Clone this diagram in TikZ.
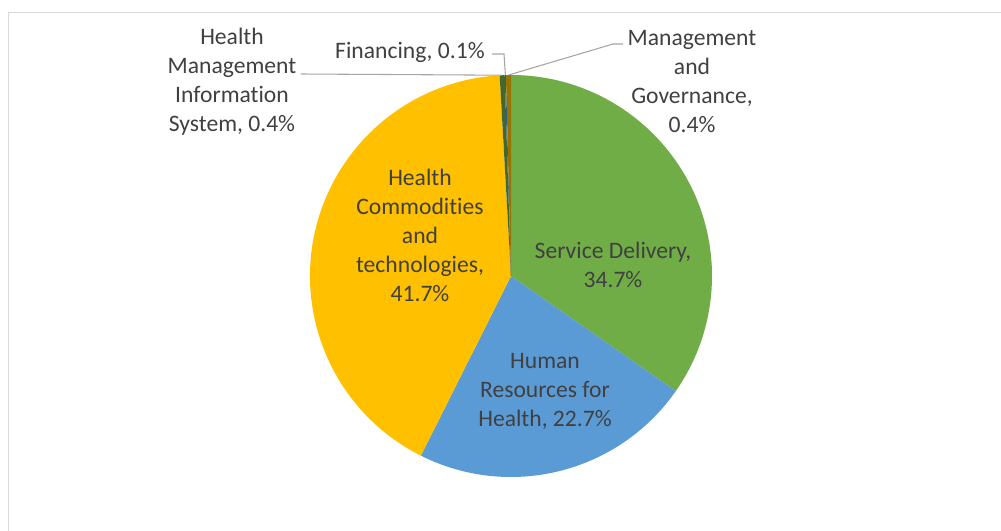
\documentclass[tikz,border=0pt]{standalone}
\usepackage{fontspec}
\setmainfont{Carlito}[RawFeature={-liga}]
\definecolor{sdgreen}{HTML}{70AD47}
\definecolor{hrblue}{HTML}{5B9BD5}
\definecolor{hcgold}{HTML}{FFC000}
\definecolor{hmisgreen}{HTML}{43682B}
\definecolor{finblue}{HTML}{255E91}
\definecolor{mggold}{HTML}{997300}
\definecolor{txt}{HTML}{404040}
\definecolor{lead}{HTML}{A6A6A6}
\definecolor{frame}{HTML}{D9D9D9}
\begin{document}
\begin{tikzpicture}[x=0.75pt,y=-0.75pt,
  lbl/.style={align=center,text=txt,inner sep=0pt,font=\fontsize{17.7}{21.75}\selectfont},
  leader/.style={draw=lead,line width=0.8pt}]
\useasboundingbox (0,0) rectangle (1001,531);
\draw[frame,line width=1.2pt] (8.5,531) -- (8.5,12.5) -- (1001,12.5);
\begin{scope}[shift={(511,276)}]
\fill[sdgreen] (0,0) -- (-90:201) arc[start angle=-90,end angle=34.92,radius=201] -- cycle;
\fill[hrblue] (0,0) -- (34.92:201) arc[start angle=34.92,end angle=116.64,radius=201] -- cycle;
\fill[hcgold] (0,0) -- (116.64:201) arc[start angle=116.64,end angle=266.76,radius=201] -- cycle;
\fill[hmisgreen] (0,0) -- (266.76:201) arc[start angle=266.76,end angle=268.2,radius=201] -- cycle;
\fill[finblue] (0,0) -- (268.2:201) arc[start angle=268.2,end angle=268.56,radius=201] -- cycle;
\fill[mggold] (0,0) -- (268.56:201) arc[start angle=268.56,end angle=270,radius=201] -- cycle;
\coordinate (hmisP) at (267.5:201);
\coordinate (finP) at (268.4:201);
\coordinate (mgP) at (269.3:201);
\end{scope}
\node[lbl] (hmis) at (232,82) {Health\\Management\\Information\\System, 0.4\%};
\node[lbl] (fin) at (410,52) {Financing, 0.1\%};
\node[lbl] (mg) at (692,82) {Management\\and\\Governance,\\0.4\%};
\node[lbl] (hc) at (420,235) {Health\\Commodities\\and\\technologies,\\41.7\%};
\node[lbl] (sd) at (613,265) {Service Delivery,\\34.7\%};
\node[lbl] (hr) at (545,391) {Human\\Resources for\\Health, 22.7\%};
\coordinate (hmisA) at (301,74);
\coordinate (finA) at (492,54);
\coordinate (finB) at (504,54);
\coordinate (mgA) at (613,44);
\coordinate (mgB) at (623,44);
\draw[leader] (hmisA) -- (hmisP);
\draw[leader] (finA) -- (finB) -- (finP);
\draw[leader] (mgP) -- (mgA) -- (mgB);
\end{tikzpicture}
\end{document}
